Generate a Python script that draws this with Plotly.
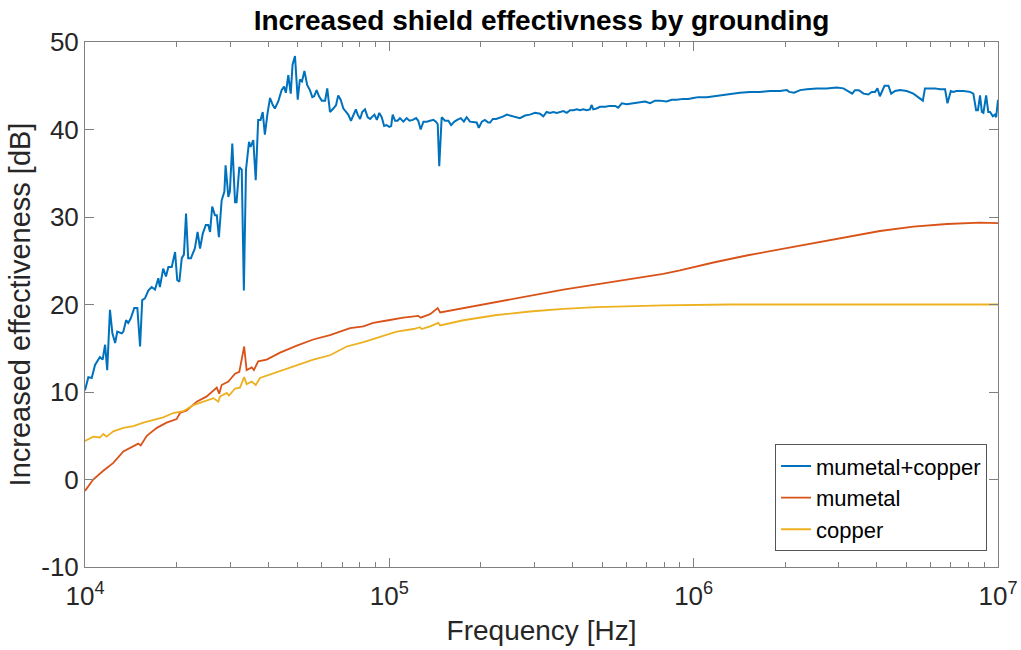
import numpy as np
import plotly.graph_objects as go

# Frequency points are stored as log10(Hz); values are in dB.
mc_logf = [4.000, 4.011, 4.022, 4.033, 4.049, 4.058, 4.066, 4.073, 4.082, 4.090,
           4.099, 4.106, 4.121, 4.126, 4.135, 4.142, 4.150, 4.162, 4.172, 4.181,
           4.188, 4.197, 4.208, 4.219, 4.230, 4.241, 4.246, 4.257, 4.266, 4.274,
           4.285, 4.296, 4.303, 4.310, 4.318, 4.325, 4.332, 4.339, 4.348, 4.361,
           4.370, 4.378, 4.387, 4.397, 4.405, 4.411, 4.418, 4.427, 4.433, 4.440,
           4.449, 4.458, 4.462, 4.471, 4.476, 4.484, 4.493, 4.498, 4.507, 4.515,
           4.522, 4.529, 4.539, 4.544, 4.553, 4.561, 4.569, 4.577, 4.584, 4.591,
           4.600, 4.608, 4.617, 4.624, 4.635, 4.646, 4.654, 4.660, 4.668, 4.676,
           4.682, 4.690, 4.699, 4.706, 4.713, 4.721, 4.730, 4.739, 4.747, 4.753,
           4.761, 4.769, 4.778, 4.789, 4.796, 4.805, 4.816, 4.825, 4.832, 4.840,
           4.849, 4.860, 4.865, 4.874, 4.882, 4.890, 4.896, 4.904, 4.911, 4.920,
           4.929, 4.937, 4.945, 4.951, 4.959, 4.967, 4.975, 4.983, 4.991, 5.000,
           5.006, 5.011, 5.019, 5.027, 5.035, 5.046, 5.057, 5.066, 5.077, 5.088,
           5.095, 5.103, 5.112, 5.123, 5.134, 5.145, 5.153, 5.159, 5.164, 5.172,
           5.183, 5.194, 5.203, 5.214, 5.223, 5.235, 5.245, 5.254, 5.265, 5.278,
           5.287, 5.294, 5.304, 5.314, 5.325, 5.331, 5.340, 5.351, 5.361, 5.375,
           5.386, 5.397, 5.413, 5.429, 5.446, 5.462, 5.479, 5.495, 5.506, 5.517,
           5.528, 5.539, 5.550, 5.561, 5.572, 5.583, 5.594, 5.605, 5.616, 5.627,
           5.637, 5.649, 5.659, 5.665, 5.670, 5.681, 5.692, 5.709, 5.725, 5.742,
           5.752, 5.764, 5.780, 5.802, 5.824, 5.840, 5.857, 5.873, 5.889, 5.911,
           5.928, 5.944, 5.966, 5.982, 5.999, 6.015, 6.043, 6.065, 6.097, 6.130,
           6.152, 6.185, 6.218, 6.251, 6.284, 6.306, 6.314, 6.330, 6.350, 6.372,
           6.404, 6.437, 6.470, 6.492, 6.508, 6.521, 6.530, 6.543, 6.558, 6.574,
           6.585, 6.596, 6.604, 6.612, 6.627, 6.640, 6.649, 6.662, 6.678, 6.700,
           6.722, 6.738, 6.753, 6.760, 6.777, 6.793, 6.810, 6.826, 6.834, 6.845,
           6.853, 6.864, 6.886, 6.908, 6.919, 6.928, 6.934, 6.941, 6.947, 6.952,
           6.961, 6.968, 6.974, 6.983, 6.990, 6.994, 7.000]
mc_db = [10.2, 11.7, 11.6, 13.1, 14.0, 13.7, 15.4, 12.5, 19.4, 16.7,
         15.6, 16.9, 16.7, 16.9, 18.2, 17.9, 18.4, 19.6, 19.6, 15.2,
         20.5, 20.7, 21.6, 22.0, 21.7, 23.0, 22.0, 24.1, 23.2, 24.3,
         24.3, 26.0, 22.8, 22.6, 25.3, 25.7, 30.4, 25.3, 25.3, 26.4,
         28.3, 26.4, 28.1, 29.1, 29.1, 28.3, 31.2, 30.2, 30.2, 27.7,
         31.9, 32.9, 35.9, 32.3, 32.9, 38.4, 31.7, 31.7, 35.7, 35.4,
         21.6, 35.4, 38.6, 38.0, 38.8, 34.2, 41.1, 41.1, 42.0, 39.4,
         41.9, 43.6, 42.8, 42.4, 43.2, 44.5, 44.9, 44.2, 46.2, 44.1,
         47.4, 48.4, 43.4, 45.7, 45.5, 46.7, 45.1, 44.5, 43.7, 43.8,
         44.5, 43.8, 43.3, 43.3, 44.7, 42.0, 42.4, 42.8, 43.9, 43.4,
         42.4, 42.0, 41.7, 41.0, 41.7, 42.3, 41.7, 41.2, 42.0, 42.3,
         41.4, 41.2, 41.5, 41.7, 41.1, 41.9, 41.4, 40.4, 40.5, 40.3,
         40.4, 41.7, 41.0, 41.0, 41.3, 40.9, 41.3, 41.0, 41.1, 41.3,
         41.0, 40.0, 40.9, 40.9, 41.0, 41.1, 40.9, 40.6, 35.8, 41.4,
         41.0, 41.0, 40.5, 40.9, 41.1, 41.3, 40.9, 41.4, 40.9, 40.8,
         40.8, 40.2, 40.9, 41.1, 40.8, 40.8, 41.2, 41.2, 41.3, 41.5,
         41.7, 41.6, 41.5, 41.3, 41.6, 41.7, 41.9, 41.8, 41.5, 42.0,
         41.9, 42.0, 41.9, 42.0, 42.1, 41.9, 42.2, 42.2, 42.3, 42.2,
         42.3, 42.2, 42.3, 42.8, 42.3, 42.4, 42.6, 42.6, 42.7, 42.7,
         42.5, 43.0, 42.9, 43.0, 43.1, 43.2, 43.0, 43.3, 43.3, 43.2,
         43.4, 43.4, 43.5, 43.5, 43.6, 43.7, 43.7, 43.8, 44.0, 44.1,
         44.2, 44.3, 44.3, 44.4, 44.4, 44.5, 44.3, 44.2, 44.5, 44.6,
         44.7, 44.7, 44.8, 44.7, 44.4, 44.1, 44.5, 44.5, 44.1, 44.0,
         44.3, 44.3, 44.7, 43.8, 45.0, 45.0, 44.1, 44.4, 44.5, 44.4,
         44.1, 43.7, 43.3, 44.7, 44.7, 44.7, 44.6, 44.6, 43.0, 44.4,
         44.3, 44.4, 44.4, 44.3, 44.1, 42.2, 42.2, 43.9, 42.0, 41.9,
         43.9, 42.0, 42.0, 41.5, 41.7, 41.4, 43.4]

mu_logf = [4.000, 4.027, 4.060, 4.093, 4.126, 4.159, 4.175, 4.183, 4.203, 4.236,
           4.268, 4.301, 4.312, 4.334, 4.367, 4.400, 4.433, 4.441, 4.449, 4.471,
           4.493, 4.507, 4.523, 4.531, 4.548, 4.555, 4.569, 4.597, 4.641, 4.696,
           4.750, 4.805, 4.871, 4.915, 4.947, 4.997, 5.046, 5.095, 5.103, 5.134,
           5.159, 5.167, 5.243, 5.353, 5.462, 5.572, 5.681, 5.791, 5.900, 5.955,
           6.065, 6.174, 6.284, 6.393, 6.503, 6.612, 6.722, 6.832, 6.941, 7.000]
mu_db = [-1.3, 0.0, 1.0, 1.9, 3.2, 3.8, 4.1, 3.9, 5.0, 5.9,
         6.5, 6.9, 7.6, 7.9, 8.9, 9.5, 10.5, 9.8, 10.8, 11.2,
         12.1, 12.3, 15.2, 12.5, 12.8, 12.5, 13.5, 13.7, 14.5, 15.3,
         16.0, 16.5, 17.3, 17.5, 17.9, 18.2, 18.5, 18.7, 18.5, 18.9,
         19.6, 19.1, 19.6, 20.3, 21.0, 21.7, 22.3, 22.9, 23.5, 23.9,
         24.8, 25.6, 26.3, 27.0, 27.7, 28.4, 28.9, 29.2, 29.35, 29.3]

cu_logf = [4.000, 4.027, 4.049, 4.060, 4.071, 4.093, 4.126, 4.159, 4.192, 4.224,
           4.257, 4.290, 4.323, 4.356, 4.389, 4.422, 4.438, 4.444, 4.466, 4.473,
           4.493, 4.509, 4.523, 4.531, 4.548, 4.561, 4.575, 4.641, 4.696, 4.750,
           4.805, 4.860, 4.915, 4.969, 5.024, 5.079, 5.101, 5.106, 5.134, 5.161,
           5.167, 5.243, 5.353, 5.462, 5.572, 5.681, 5.791, 5.900, 6.119, 6.514,
           7.000]
cu_db = [4.4, 4.9, 4.8, 5.2, 4.9, 5.5, 5.9, 6.1, 6.5, 6.8,
         7.1, 7.6, 7.8, 8.5, 8.9, 9.3, 8.9, 9.5, 9.9, 9.6,
         10.4, 10.5, 11.7, 10.9, 11.2, 10.8, 11.6, 12.4, 13.1, 13.7,
         14.2, 15.2, 15.7, 16.3, 16.9, 17.2, 17.4, 17.2, 17.5, 17.9,
         17.6, 18.2, 18.8, 19.2, 19.5, 19.7, 19.8, 19.9, 20.0, 20.0,
         20.0]

series_names = ["mumetal+copper", "mumetal", "copper"]
series_colors = ["#0072BD", "#D95319", "#EDB120"]

x_tickvals = [1e4, 1e5, 1e6, 1e7]
x_ticktext = ["10<sup>4</sup>", "10<sup>5</sup>", "10<sup>6</sup>", "10<sup>7</sup>"]
x_minor = [m * 10 ** d for d in (4, 5, 6) for m in range(2, 10)]
y_tickvals = [-10, 0, 10, 20, 30, 40, 50]
y_ticktext = ["-10", "0", "10", "20", "30", "40", "50"]

FONT = "Liberation Sans, Arial, Helvetica, sans-serif"
AXIS_COLOR = "#808080"
TEXT_COLOR = "#262626"

fig = go.Figure()
for logf, db, name, color, w in zip(
        [mc_logf, mu_logf, cu_logf], [mc_db, mu_db, cu_db],
        series_names, series_colors, [2.0, 1.8, 1.8]):
    fig.add_trace(go.Scatter(
        x=np.power(10.0, logf), y=db, mode="lines", name=name,
        line=dict(color=color, width=w, shape="linear"),
    ))

axis_common = dict(
    showline=True, linecolor=AXIS_COLOR, linewidth=1, mirror="ticks",
    ticks="inside", tickcolor=AXIS_COLOR, tickwidth=1,
    showgrid=False, zeroline=False, automargin=False,
)

fig.update_xaxes(
    type="log", range=[4, 7],
    tickvals=x_tickvals, ticktext=x_ticktext, ticklen=9,
    ticklabelstandoff=6,
    tickfont=dict(family=FONT, size=26, color=TEXT_COLOR),
    minor=dict(tickvals=x_minor, ticks="inside", ticklen=5,
               tickcolor=AXIS_COLOR, tickwidth=1, showgrid=False),
    title=dict(text="Frequency [Hz]", font=dict(family=FONT, size=28, color=TEXT_COLOR),
               standoff=10),
    **axis_common,
)
fig.update_yaxes(
    range=[-10, 50], tickvals=y_tickvals, ticktext=y_ticktext, ticklen=9,
    tickfont=dict(family=FONT, size=26, color=TEXT_COLOR),
    title=dict(text="Increased effectiveness [dB]",
               font=dict(family=FONT, size=29, color=TEXT_COLOR), standoff=2),
    **axis_common,
)

fig.update_layout(
    width=1021, height=650,
    margin=dict(l=85, r=23, t=42, b=83),
    paper_bgcolor="white", plot_bgcolor="white",
    title=dict(text="<b>Increased shield effectivness by grounding</b>",
               font=dict(family=FONT, size=28, color="black"),
               x=0.5304, xanchor="center", y=0.969, yanchor="middle"),
    legend=dict(
        x=0.988, xanchor="right", y=0.03, yanchor="bottom",
        bgcolor="white", bordercolor="#555555", borderwidth=1,
        font=dict(family=FONT, size=22, color="black"),
        itemwidth=30, tracegroupgap=0,
    ),
    showlegend=True,
)

fig.write_html("out.html")
